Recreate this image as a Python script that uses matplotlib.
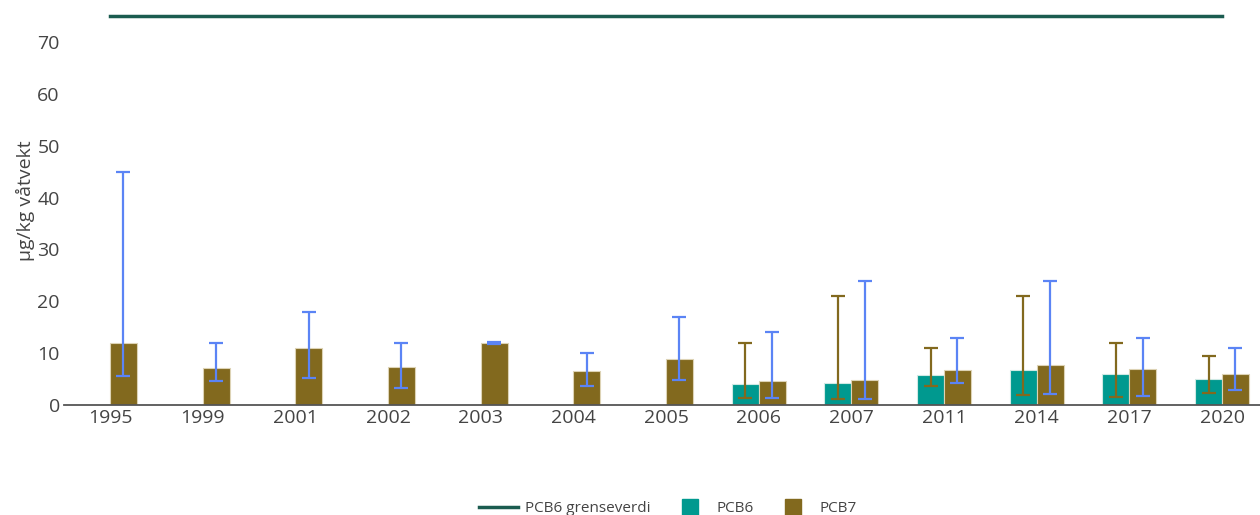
import numpy as np
import matplotlib
matplotlib.use("Agg")
import matplotlib.pyplot as plt
from matplotlib.lines import Line2D

plt.rcParams['font.family'] = ['Open Sans', 'DejaVu Sans']

years = ["1995", "1999", "2001", "2002", "2003", "2004", "2005",
         "2006", "2007", "2011", "2014", "2017", "2020"]
nan = np.nan
pcb6 = [nan, nan, nan, nan, nan, nan, nan, 4.05, 4.2, 5.8, 6.8, 5.9, 5.1]
pcb6_low = [nan, nan, nan, nan, nan, nan, nan, 1.3, 1.15, 3.7, 1.9, 1.6, 2.4]
pcb6_high = [nan, nan, nan, nan, nan, nan, nan, 12.0, 21.0, 11.0, 21.0, 12.0, 9.5]
pcb7 = [12.0, 7.2, 10.9, 7.3, 11.9, 6.6, 8.9, 4.6, 4.9, 6.7, 7.8, 6.9, 5.9]
pcb7_low = [5.5, 4.7, 5.2, 3.3, 11.8, 3.7, 4.8, 1.4, 1.15, 4.2, 2.2, 1.7, 2.9]
pcb7_high = [45.0, 12.0, 18.0, 12.0, 12.1, 10.0, 17.0, 14.1, 24.0, 13.0, 24.0, 13.0, 11.0]
grense = [75] * len(years)

c_teal = "#00998f"
c_brown = "#82691e"
c_blue = "#5b84f5"
c_line = "#1b5c50"
c_text = "#444444"

W, H = 1260, 515
fig = plt.figure(figsize=(W / 100, H / 100), dpi=100)
left_px, right_px, top_px, bot_px = 64, 1260, 5, 405
ax = fig.add_axes([left_px / W, 1 - bot_px / H, (right_px - left_px) / W, (bot_px - top_px) / H])

x = np.arange(len(years))
bw = 0.29
p6 = np.array(pcb6)
p7 = np.array(pcb7)

ax.bar(x - bw / 2, p6, width=bw, color=c_teal, edgecolor="#cfe9e4", linewidth=0.8, zorder=2)
ax.bar(x + bw / 2, p7, width=bw, color=c_brown, edgecolor="#ddd3b5", linewidth=0.8, zorder=2)

e6 = np.vstack([p6 - np.array(pcb6_low), np.array(pcb6_high) - p6])
e7 = np.vstack([p7 - np.array(pcb7_low), np.array(pcb7_high) - p7])
ax.errorbar(x - bw / 2, p6, yerr=e6, fmt="none", ecolor=c_brown, elinewidth=1.6,
            capsize=4.8, capthick=1.6, zorder=3)
ax.errorbar(x + bw / 2, p7, yerr=e7, fmt="none", ecolor=c_blue, elinewidth=1.6,
            capsize=4.8, capthick=1.6, zorder=3)

ax.plot(x, grense, color=c_line, linewidth=2.5, zorder=4)

ax.set_xlim(-(110 - left_px) / 92.67, (right_px - 110) / 92.67)
ax.set_ylim(0, (bot_px - top_px) / 5.186)
ax.set_xticks(x)
ax.set_xticklabels(years)
ax.set_yticks(np.arange(0, 80, 10))
ax.tick_params(axis="both", length=0, labelsize=14, labelcolor=c_text)
ax.tick_params(axis="x", pad=3)
ax.tick_params(axis="y", pad=3)
for s in ["top", "right", "left"]:
    ax.spines[s].set_visible(False)
ax.spines["bottom"].set_color("#555555")
ax.spines["bottom"].set_linewidth(1.3)
ax.spines["bottom"].set_zorder(5)
fig.text(25 / W, 1 - 201 / H, "µg/kg våtvekt", rotation=90, ha="center", va="center",
         fontsize=14, color=c_text)

handles = [
    Line2D([], [], color=c_line, linewidth=2.5),
    Line2D([], [], marker="s", markersize=11, linestyle="none", color=c_teal),
    Line2D([], [], marker="s", markersize=11, linestyle="none", color=c_brown),
]
labels = ["PCB6 grenseverdi", "PCB6", "PCB7"]
fig.legend(handles, labels, loc="center", bbox_to_anchor=(668 / W, 1 - 509 / H), ncol=3,
           frameon=False, fontsize=11, labelcolor=c_text, handlelength=2.5,
           handletextpad=0.5, columnspacing=1.3, borderpad=0)

fig.savefig("out.png", dpi=100)
